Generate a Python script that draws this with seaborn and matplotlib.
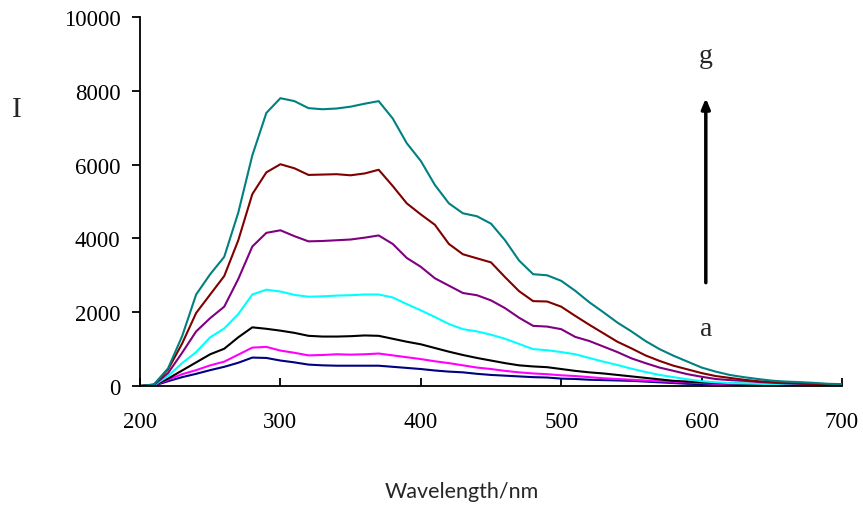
import numpy as np
import pandas as pd
import matplotlib
matplotlib.use("Agg")
import matplotlib.pyplot as plt
import seaborn as sns

wavelength = list(range(200, 701, 10))

curve_a = [0, 10, 130, 240, 330, 430, 520, 630, 770, 760, 690, 640, 580, 560, 550, 550, 550, 550,
           520, 490, 460, 420, 390, 370, 330, 300, 280, 260, 240, 230, 200, 190, 170, 160, 150, 140,
           120, 100, 80, 60, 50, 45, 40, 35, 30, 30, 25, 25, 20, 20, 20]
curve_b = [0, 15, 170, 320, 430, 560, 660, 850, 1040, 1060, 960, 900, 830, 840, 860, 850, 860, 880,
           830, 780, 730, 670, 620, 560, 500, 460, 410, 370, 340, 320, 290, 270, 240, 210, 190, 170,
           150, 130, 115, 100, 80, 60, 50, 45, 40, 35, 30, 25, 25, 20, 20]
curve_c = [0, 20, 200, 420, 640, 860, 1010, 1320, 1590, 1550, 1500, 1440, 1360, 1340, 1340, 1350, 1370, 1360,
           1280, 1200, 1130, 1030, 930, 840, 760, 690, 620, 560, 530, 510, 460, 410, 370, 340, 300, 260,
           220, 180, 140, 120, 100, 80, 70, 60, 50, 45, 40, 35, 30, 30, 25]
curve_d = [0, 20, 270, 620, 920, 1320, 1560, 1950, 2480, 2610, 2560, 2470, 2420, 2430, 2450, 2460, 2480, 2480,
           2400, 2220, 2050, 1870, 1680, 1540, 1480, 1390, 1280, 1140, 1000, 970, 920, 860, 760, 660, 570, 470,
           380, 300, 240, 180, 130, 100, 80, 70, 60, 50, 45, 40, 35, 30, 30]
curve_e = [0, 30, 350, 900, 1480, 1840, 2150, 2900, 3780, 4150, 4220, 4060, 3920, 3930, 3950, 3970, 4020, 4080,
           3850, 3470, 3230, 2920, 2720, 2520, 2460, 2320, 2110, 1850, 1630, 1610, 1540, 1330, 1220, 1070, 920, 750,
           620, 500, 410, 320, 250, 190, 160, 140, 110, 90, 70, 60, 50, 40, 30]
curve_f = [0, 40, 450, 1150, 1980, 2480, 2980, 3950, 5200, 5790, 6010, 5900, 5720, 5730, 5740, 5710, 5760, 5860,
           5420, 4950, 4650, 4370, 3850, 3570, 3460, 3350, 2950, 2570, 2300, 2290, 2150, 1900, 1660, 1430, 1200, 1020,
           830, 680, 550, 450, 350, 270, 220, 170, 130, 110, 90, 70, 60, 50, 40]
curve_g = [0, 40, 480, 1350, 2480, 3030, 3500, 4700, 6250, 7400, 7800, 7720, 7530, 7500, 7520, 7570, 7650, 7720,
           7250, 6580, 6100, 5450, 4950, 4680, 4600, 4400, 3950, 3400, 3030, 3000, 2850, 2580, 2270, 2000, 1720, 1480,
           1220, 1000, 820, 660, 500, 390, 300, 240, 190, 145, 120, 105, 85, 60, 50]

series_names = ["a", "b", "c", "d", "e", "f", "g"]
series_values = [curve_a, curve_b, curve_c, curve_d, curve_e, curve_f, curve_g]
series_colors = ["#000080", "#FF00FF", "#000000", "#00FFFF", "#800080", "#800000", "#008080"]

x_ticks = [200, 300, 400, 500, 600, 700]
y_ticks = [0, 2000, 4000, 6000, 8000, 10000]

rows = []
for name, vals in zip(series_names, series_values):
    for w, v in zip(wavelength, vals):
        rows.append({"Wavelength": w, "I": v, "curve": name})
df = pd.DataFrame(rows)

sns.set_style("ticks")
plt.rcParams["font.family"] = ["Liberation Serif", "DejaVu Serif"]

fig = plt.figure(figsize=(8.63, 5.06), dpi=100)
ax = fig.add_axes([140 / 863, 1 - 387 / 506, (842 - 140) / 863, (387 - 18) / 506])

sns.lineplot(data=df, x="Wavelength", y="I", hue="curve", palette=dict(zip(series_names, series_colors)),
             hue_order=series_names, linewidth=1.5, legend=False, ax=ax)

ax.set_xlim(200, 700)
ax.set_ylim(0, 10000)
ax.set_xticks(x_ticks)
ax.set_yticks(y_ticks)
ax.set_xlabel("")
ax.set_ylabel("")
for s in ["top", "right"]:
    ax.spines[s].set_visible(False)
for s in ["left", "bottom"]:
    ax.spines[s].set_color("black")
    ax.spines[s].set_linewidth(1.3)
ax.tick_params(axis="x", direction="in", length=6, width=1.3, colors="black", labelsize=16.5, pad=18)
ax.tick_params(axis="y", direction="out", length=6, width=1.3, colors="black", labelsize=16.5, pad=8)
for lab in ax.get_xticklabels() + ax.get_yticklabels():
    lab.set_fontweight("light")

ax.annotate("", xy=(603, 7800), xytext=(603, 2800),
            arrowprops=dict(arrowstyle="-|>,head_length=0.6,head_width=0.25", lw=2.5, color="black",
                            shrinkA=0, shrinkB=0))
ax.text(603, 8950, "g", ha="center", va="center", fontsize=20, family="Liberation Serif")
ax.text(603, 1550, "a", ha="center", va="center", fontsize=20, family="Liberation Serif")

fig.text(17 / 863, 1 - 110 / 506, "I", ha="center", va="center", fontsize=21, family="Liberation Serif")
fig.text(462 / 863, 1 - 492 / 506, "Wavelength/nm", ha="center", va="center", fontsize=15.5,
         family=["Lato", "DejaVu Sans"])

fig.savefig("out.png", dpi=100)
